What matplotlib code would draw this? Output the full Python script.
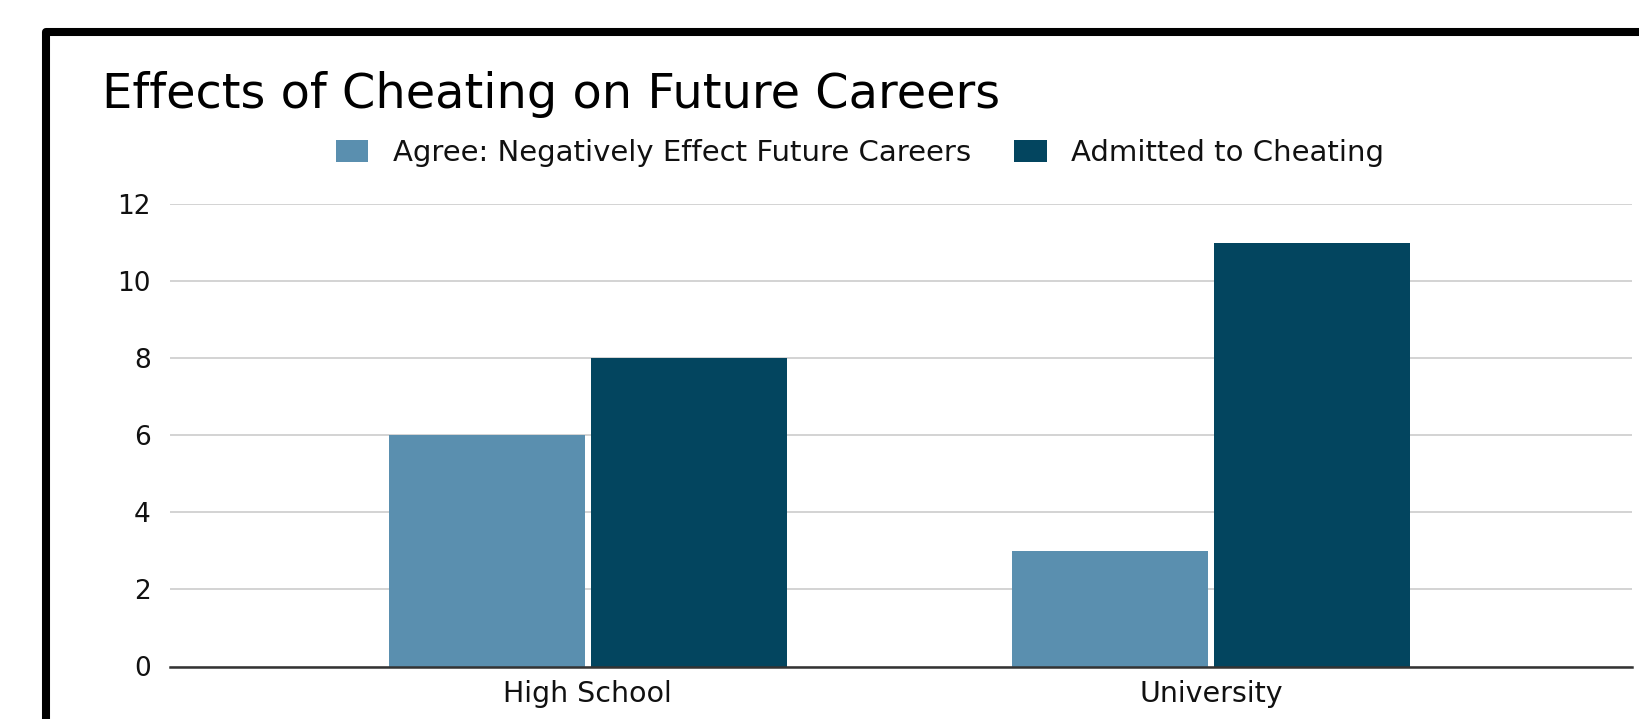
import numpy as np
import matplotlib.pyplot as plt
from matplotlib.patches import Rectangle

plt.rcParams['font.family'] = ['DejaVu Sans']

# survey counts per school level
categories = ["High School", "University"]
agree_negative = [6, 3]
admitted_cheating = [8, 11]
series_names = ["Agree: Negatively Effect Future Careers", "Admitted to Cheating"]
y_ticks = [0, 2, 4, 6, 8, 10, 12]

light_blue = "#5a8faf"
dark_blue = "#03455f"

W, H = 1640, 719
fig = plt.figure(figsize=(W / 100, H / 100), dpi=100)
fig.patch.set_facecolor("white")

# plot area in pixel terms
left, right = 170, 1632
top, bottom = 204, 666.5
ax = fig.add_axes([left / W, 1 - bottom / H, (right - left) / W, (bottom - top) / H])

x = np.arange(len(categories))
bar_w = 0.314
offset = 0.162
ax.bar(x - offset, agree_negative, width=bar_w, color=light_blue, zorder=3,
       label=series_names[0])
ax.bar(x + offset, admitted_cheating, width=bar_w, color=dark_blue, zorder=3,
       label=series_names[1])

ax.set_xlim(-0.67, 1.675)
ax.set_ylim(0, 12)
ax.set_yticks(y_ticks)
ax.set_xticks(x)
ax.set_xticklabels(categories)

for s in ["top", "right", "left"]:
    ax.spines[s].set_visible(False)
ax.spines["bottom"].set_color("#333333")
ax.spines["bottom"].set_linewidth(1.8)
ax.spines["bottom"].set_zorder(4)

ax.yaxis.grid(True, color="#cccccc", linewidth=1.2, zorder=0)
ax.set_axisbelow(True)
ax.tick_params(axis="both", length=0, labelcolor="#111111")
ax.tick_params(axis="y", pad=14, labelsize=19)
ax.tick_params(axis="x", pad=10, labelsize=20.5)

# legend row above the plot
fig.legend(loc="center", bbox_to_anchor=(860 / W, 1 - 153 / H), ncol=2,
           frameon=False, fontsize=21, handlelength=1.1, handleheight=0.8,
           handletextpad=0.85, columnspacing=1.5, borderpad=0,
           labelcolor="#111111")

fig.text(102 / W, 1 - 108 / H, "Effects of Cheating on Future Careers",
         fontsize=34.5, color="black", ha="left", va="baseline")

# heavy black border around the chart
frame = Rectangle((46 / W, -0.2), 1.5, (1 - 32 / H) + 0.2,
                  transform=fig.transFigure, fill=False, edgecolor="black",
                  linewidth=5.8, joinstyle="round", clip_on=False)
fig.add_artist(frame)

fig.savefig("out.png", dpi=100)
